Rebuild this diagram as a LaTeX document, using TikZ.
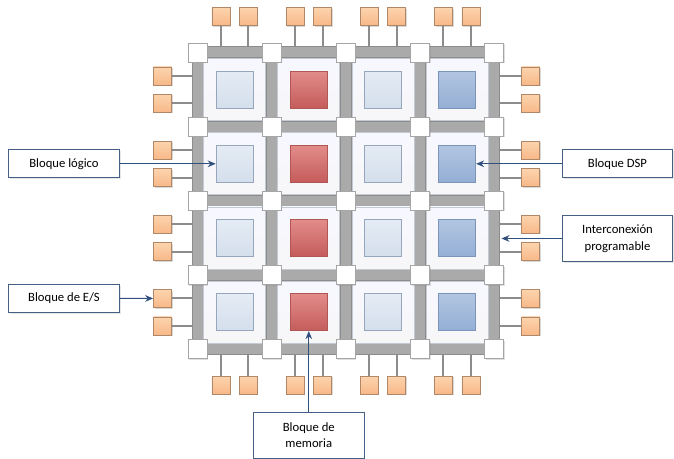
\documentclass[tikz,border=0pt]{standalone}
\usepackage{fontspec}
\setmainfont{Carlito}
\usepackage{xcolor}
\usetikzlibrary{arrows.meta, positioning, calc, backgrounds, shadows}
\definecolor{chanedge}{RGB}{140,140,140}
\definecolor{chanfill}{RGB}{170,170,170}
\definecolor{tileedge}{RGB}{196,202,212}
\definecolor{logicedge}{RGB}{150,166,188}
\definecolor{memedge}{RGB}{176,86,84}
\definecolor{dspedge}{RGB}{122,148,186}
\definecolor{padedge}{RGB}{176,136,104}
\definecolor{lbledge}{RGB}{70,96,132}
\definecolor{arrowblue}{RGB}{50,80,125}

\begin{document}
\begin{tikzpicture}[
    x=0.75pt, y=-0.75pt,
    font=\fontsize{9.5}{12.5}\selectfont,
    swbox/.style={rectangle, draw=black!35, line width=0.5pt, fill=white,
                  minimum size=14.25pt, inner sep=0pt,
                  drop shadow={opacity=0.25, shadow xshift=0.8pt, shadow yshift=-0.8pt}},
    tile/.style={rectangle, draw=tileedge, line width=0.5pt,
                 top color=blue!3, bottom color=blue!8!black!3,
                 minimum size=46.5pt, inner sep=0pt},
    logic/.style={rectangle, draw=logicedge, line width=0.6pt,
                  top color={rgb,255:red,228;green,235;blue,244},
                  bottom color={rgb,255:red,212;green,223;blue,236},
                  minimum size=27.75pt, inner sep=0pt},
    mem/.style={logic, draw=memedge,
                top color={rgb,255:red,226;green,140;blue,138},
                bottom color={rgb,255:red,196;green,92;blue,90}},
    dsp/.style={logic, draw=dspedge,
                top color={rgb,255:red,178;green,198;blue,226},
                bottom color={rgb,255:red,148;green,174;blue,212}},
    pad/.style={rectangle, draw=padedge, line width=0.5pt,
                top color={rgb,255:red,252;green,212;blue,174},
                bottom color={rgb,255:red,248;green,184;blue,136},
                minimum size=13.5pt, inner sep=0pt,
                drop shadow={opacity=0.3, shadow xshift=0.8pt, shadow yshift=-0.8pt}},
    chan/.style={draw=chanedge, line width=0.75pt, double=chanfill, double distance=7.5pt},
    wire/.style={draw=chanedge, line width=1.5pt},
    lbl/.style={rectangle, draw=lbledge, line width=0.6pt, fill=white, align=center,
                minimum width=83pt, minimum height=21pt,
                drop shadow={opacity=0.2, shadow xshift=1pt, shadow yshift=-1pt}},
    a/.style={-{Stealth[length=6pt, width=5pt]}, draw=arrowblue, line width=0.8pt},
]
\useasboundingbox (0,0) rectangle (674,459);

%% ─── tiles and blocks ────────────────────────────────────────
\foreach \c/\kind in {0/logic, 1/mem, 2/logic, 3/dsp}
  \foreach \r in {0,...,3} {
    \node[tile] (tl-\c-\r) at ({234.6+74.2*\c}, {89.6+74.2*\r}) {};
    \node[\kind] (blk-\c-\r) at (tl-\c-\r) {};
  }

%% ─── I/O pads ────────────────────────────────────────────────
\foreach \c in {0,...,3}
  \foreach \k/\d in {0/-13.75, 1/13.75} {
    \node[pad] (pt-\c-\k) at ({234.6+74.2*\c+\d}, 16.5) {};
    \node[pad] (pb-\c-\k) at ({234.6+74.2*\c+\d}, 385) {};
    \node[pad] (pl-\c-\k) at (162.5, {89.6+74.2*\c+\d}) {};
    \node[pad] (pr-\c-\k) at (530.8, {89.6+74.2*\c+\d}) {};
  }

%% ─── switch boxes (on top of the tiles) ──────────────────────
\foreach \i in {0,...,4}
  \foreach \j in {0,...,4}
    \node[swbox] (sw-\i-\j) at ({197.5+74.2*\i}, {52.5+74.2*\j}) {};

%% ─── routing channels (behind everything) ────────────────────
\begin{scope}[on background layer]
  % pad wires into the outer channels
  \foreach \c in {0,...,3}
    \foreach \k in {0,1} {
      \draw[wire] (pt-\c-\k.south) -- (pt-\c-\k |- sw-0-0.center);
      \draw[wire] (pb-\c-\k.north) -- (pb-\c-\k |- sw-0-4.center);
      \draw[wire] (pl-\c-\k.east) -- (pl-\c-\k -| sw-0-0.center);
      \draw[wire] (pr-\c-\k.west) -- (pr-\c-\k -| sw-4-0.center);
    }
  % horizontal and vertical channels
  \foreach \a in {0,...,4}
    \foreach \b [count=\nb from 1] in {0,...,3} {
      \draw[chan] (sw-\b-\a.center) -- (sw-\nb-\a.center);
      \draw[chan] (sw-\a-\b.center) -- (sw-\a-\nb.center);
    }
\end{scope}

%% ─── labels ──────────────────────────────────────────────────
\node[lbl] (llog) at (64, 163.8) {Bloque lógico};
\node[lbl] (lio)  at (64, 298.4) {Bloque de E/S};
\node[lbl, minimum width=82pt] (ldsp) at (617.5, 163.8) {Bloque DSP};
\node[lbl, minimum width=82pt, minimum height=35pt] (lint) at (617.5, 238.5)
    {Interconexión\\programable};
\node[lbl, minimum height=34.5pt] (lmem) at (308.8, 435) {Bloque de\\memoria};

\coordinate (rchan) at (501.5, 238.5);

%% ─── arrows ──────────────────────────────────────────────────
\draw[a] (llog.east) -- (blk-0-1.west);
\draw[a] (lio.east)  -- (pl-3-0.west);
\draw[a] (ldsp.west) -- (blk-3-1.east);
\draw[a] (lint.west) -- (rchan);
\draw[a] (lmem.north) -- (blk-1-3.south);

\end{tikzpicture}
\end{document}
